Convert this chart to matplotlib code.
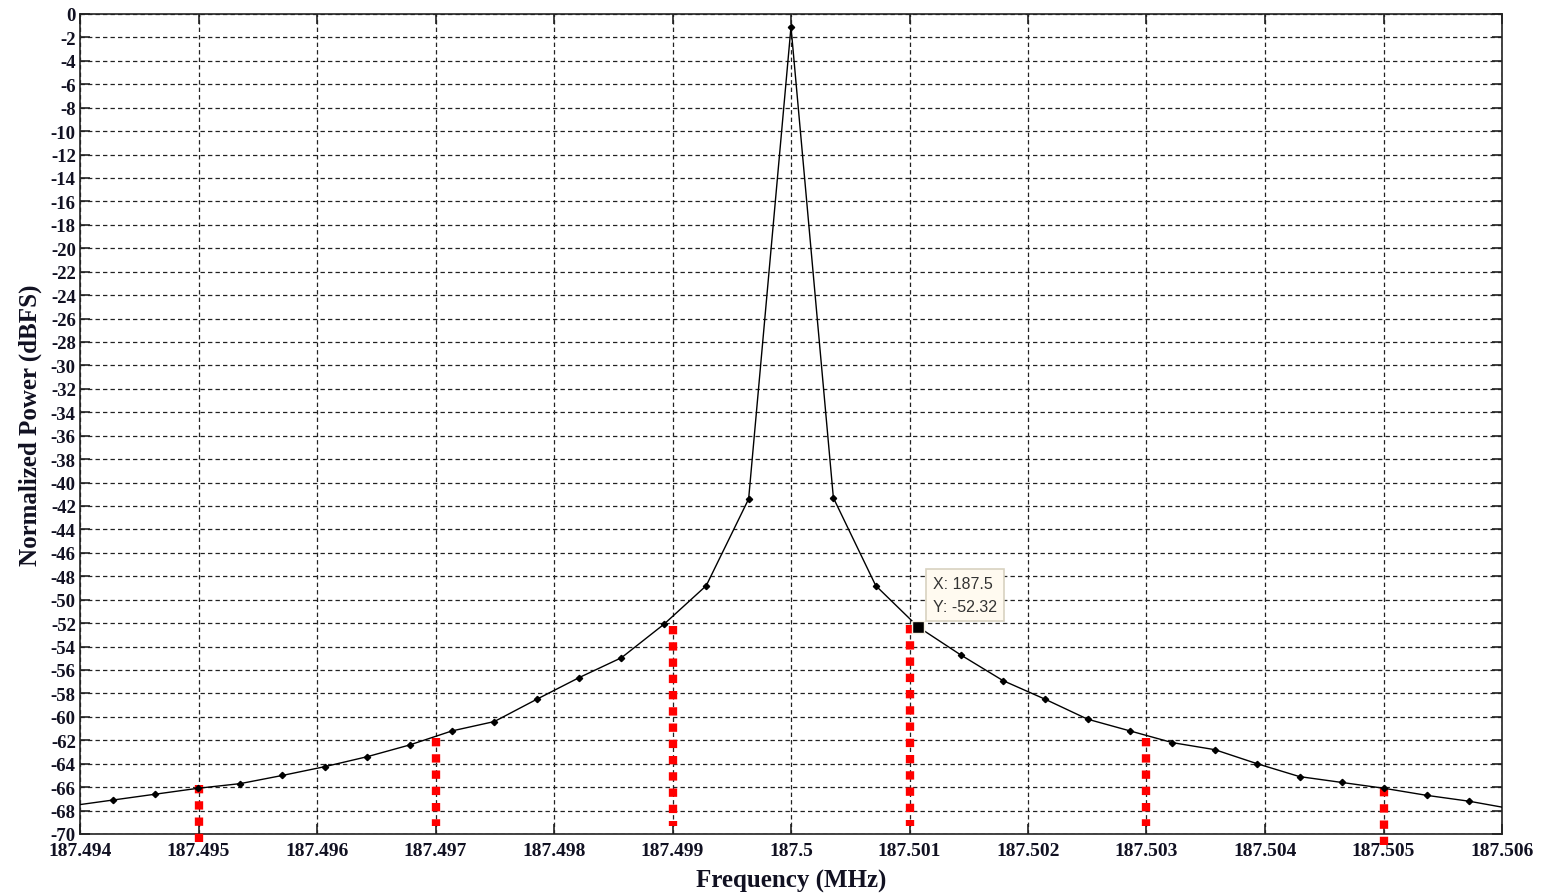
import matplotlib
matplotlib.use("Agg")
import matplotlib.pyplot as plt
import numpy as np

plt.rcParams['axes.unicode_minus'] = False

# --- data ---
freq_mhz = [187.4939208, 187.4942784, 187.4946360, 187.4949936, 187.4953512,
            187.4957088, 187.4960664, 187.4964240, 187.4967816, 187.4971392,
            187.4974968, 187.4978544, 187.4982120, 187.4985696, 187.4989272,
            187.4992848, 187.4996424, 187.5000000, 187.5003576, 187.5007152,
            187.5010728, 187.5014304, 187.5017880, 187.5021456, 187.5025032,
            187.5028608, 187.5032184, 187.5035760, 187.5039336, 187.5042912,
            187.5046488, 187.5050064, 187.5053640, 187.5057216, 187.5060792]
power_dbfs = [-67.6, -67.1, -66.6, -66.1, -65.7, -65.0, -64.25, -63.4, -62.4, -61.2,
              -60.4, -58.5, -56.65, -54.95, -52.1, -48.8, -41.4, -1.1, -41.3, -48.8,
              -52.32, -54.7, -56.9, -58.5, -60.2, -61.2, -62.2, -62.8, -64.0, -65.1,
              -65.6, -66.1, -66.7, -67.2, -67.85]

marker_freqs = [187.495, 187.497, 187.499, 187.501, 187.503, 187.505]
marker_tops = [-65.8, -61.8, -52.25, -52.2, -61.8, -66.1]
marker_bottoms = [-70.7, -69.3, -69.3, -69.3, -69.3, -70.9]

datatip_x = 187.5010728
datatip_y = -52.32
datatip_text = "X: 187.5\nY: -52.32"

x_ticks = [187.494, 187.495, 187.496, 187.497, 187.498, 187.499, 187.5,
           187.501, 187.502, 187.503, 187.504, 187.505, 187.506]
x_tick_labels = ["187.494", "187.495", "187.496", "187.497", "187.498", "187.499", "187.5",
                 "187.501", "187.502", "187.503", "187.504", "187.505", "187.506"]
y_ticks = list(range(0, -72, -2))
y_tick_labels = [str(v) for v in y_ticks]

# --- figure ---
fig = plt.figure(figsize=(15.52, 8.95), dpi=100)
ax = fig.add_axes([80/1552, 1-835/895, (1502-80)/1552, (835-15)/895])

ax.set_xlim(187.494, 187.506)
ax.set_ylim(-70, 0)

ax.set_xticks(x_ticks)
ax.set_xticklabels(x_tick_labels)
ax.set_yticks(y_ticks)
ax.set_yticklabels(y_tick_labels)

serif = ['Liberation Serif', 'DejaVu Serif']
for lab in ax.get_xticklabels():
    lab.set_fontfamily(serif)
    lab.set_fontweight('bold')
    lab.set_fontsize(14)
for lab in ax.get_yticklabels():
    lab.set_fontfamily(serif)
    lab.set_fontweight('bold')
    lab.set_fontsize(13.5)

ax.tick_params(direction='in', length=7, width=1.2, top=True, right=True,
               colors='#222222', labelcolor='#111122')
ax.tick_params(axis='y', pad=3)
ax.tick_params(axis='x', pad=6)
for s in ax.spines.values():
    s.set_linewidth(1.2)
    s.set_color('#222222')

ax.grid(True, color='#222222', linestyle=(0, (3.5, 2.5)), linewidth=0.9)
ax.set_axisbelow(True)

# red marker stems
for fx, top, bot in zip(marker_freqs, marker_tops, marker_bottoms):
    ax.plot([fx, fx], [top, bot], color='#ff0000', linewidth=6.0,
            linestyle=(0, (1, 0.95)), solid_capstyle='butt', dash_capstyle='butt',
            clip_on=False, zorder=3)

# spectrum line
ax.plot(freq_mhz, power_dbfs, color='black', linewidth=1.0, marker='D',
        markersize=3.2, markerfacecolor='black', markeredgecolor='black', zorder=4)

# datatip
ax.plot([datatip_x], [datatip_y], marker='s', markersize=9, color='black',
        markeredgecolor='#f5f0e0', markeredgewidth=1.0, zorder=6)
ax.annotate(datatip_text, xy=(datatip_x, datatip_y), xytext=(10.5, 9.5),
            textcoords='offset points', ha='left', va='bottom',
            fontsize=11.5, family=['Liberation Sans', 'DejaVu Sans'], color='#333333',
            linespacing=1.6,
            bbox=dict(boxstyle='square,pad=0.45', facecolor='#fffaf0',
                      edgecolor='#d8d2c0', linewidth=1.2), zorder=7)

ax.set_xlabel("Frequency (MHz)", fontfamily=serif, fontweight='bold',
              fontsize=18, labelpad=7, color='#111122')
ax.set_ylabel("Normalized Power (dBFS)", fontfamily=serif, fontweight='bold',
              fontsize=18, labelpad=6, color='#111122')

fig.savefig("out.png", dpi=100)
